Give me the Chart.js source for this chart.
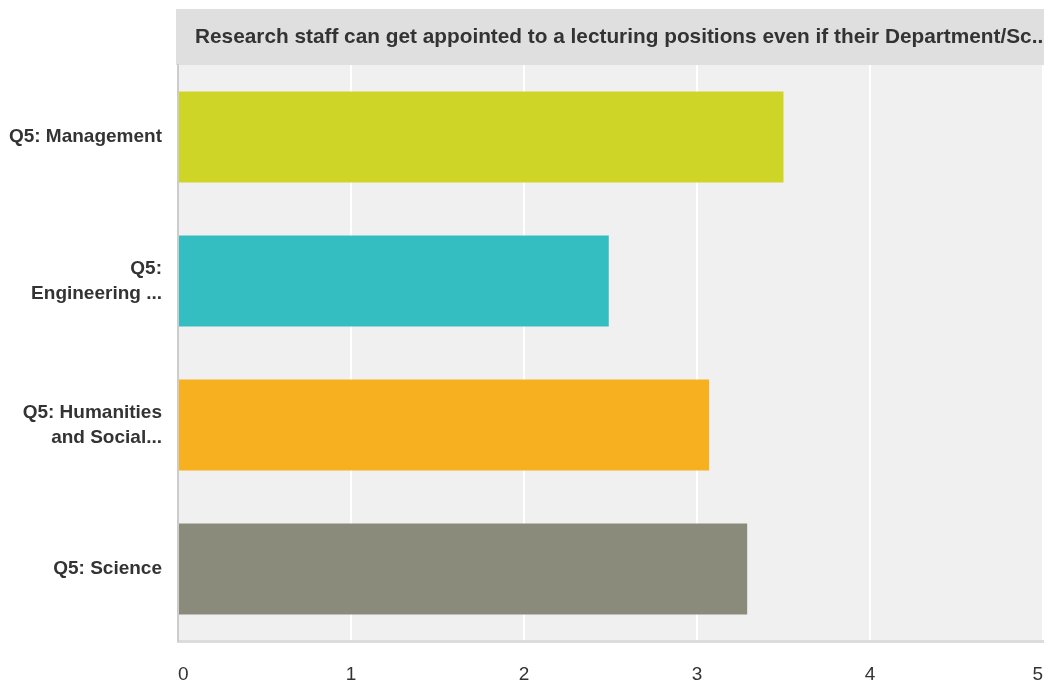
<!DOCTYPE html>
<html>
<head>
<meta charset="utf-8">
<script src="https://cdn.jsdelivr.net/npm/chart.js@4.4.1/dist/chart.umd.min.js"></script>
<style>
  html, body { margin: 0; padding: 0; background: #ffffff; }
  #wrap { width: 1053px; height: 685px; position: relative; }
</style>
</head>
<body>
<div id="wrap"><canvas id="c" width="1053" height="685"></canvas></div>
<script>
const chartTitle = "Research staff can get appointed to a lecturing positions even if their Department/Sc..";
const categories = [
  "Q5: Management",
  ["Q5:", "Engineering ..."],
  ["Q5: Humanities", "and Social..."],
  "Q5: Science"
];
const values = [3.5, 2.49, 3.07, 3.29];
const barColors = ["#cfd527", "#35bec1", "#f7b01f", "#8a8b7a"];
const xTicks = [0, 1, 2, 3, 4, 5];

const bgPlugin = {
  id: 'bgPlugin',
  beforeDraw(chart) {
    const { ctx, chartArea: a } = chart;
    ctx.save();
    ctx.fillStyle = '#f0f0f0';
    ctx.fillRect(a.left, a.top, a.right - a.left, a.bottom - a.top);
    // title bar
    const barLeft = a.left - 2, barTop = 9, barRight = a.right + 1;
    ctx.fillStyle = '#dfdfdf';
    ctx.fillRect(barLeft, barTop, barRight - barLeft, a.top - barTop);
    ctx.beginPath();
    ctx.rect(barLeft, barTop, barRight - barLeft, a.top - barTop);
    ctx.clip();
    ctx.fillStyle = '#333333';
    ctx.font = 'bold 20.8px "Liberation Sans", Arial, sans-serif';
    ctx.textBaseline = 'alphabetic';
    ctx.textAlign = 'left';
    ctx.fillText(chartTitle, a.left + 17, 43);
    ctx.restore();
  }
};

new Chart(document.getElementById('c'), {
  type: 'bar',
  data: {
    labels: categories,
    datasets: [{
      data: values,
      backgroundColor: barColors,
      borderWidth: 0,
      barPercentage: 0.632,
      categoryPercentage: 1.0
    }]
  },
  options: {
    indexAxis: 'y',
    responsive: false,
    animation: false,
    devicePixelRatio: 1,
    layout: { padding: { top: 65, right: 0, left: 0, bottom: 0 } },
    plugins: {
      legend: { display: false },
      tooltip: { enabled: false },
      title: { display: false }
    },
    scales: {
      x: {
        min: 0,
        max: 5,
        afterBuildTicks(scale) { scale.ticks = xTicks.map(v => ({ value: v })); },
        afterFit(scale) { scale.height = 44; scale.paddingRight = 10; scale.paddingLeft = 0; },
        grid: { color: '#ffffff', lineWidth: 2, drawTicks: false },
        border: { display: true, color: '#dcdcdc', width: 3 },
        ticks: {
          align: 'inner',
          padding: 22,
          color: '#333333',
          font: { family: '"Liberation Sans", Arial, sans-serif', size: 19 }
        }
      },
      y: {
        afterFit(scale) { scale.width = 178; },
        grid: { display: false, drawTicks: false },
        border: { display: true, color: '#cccccc', width: 2 },
        ticks: {
          padding: 16,
          color: '#333333',
          font: { family: '"Liberation Sans", Arial, sans-serif', size: 19, weight: 'bold', lineHeight: 1.3 }
        }
      }
    }
  },
  plugins: [bgPlugin]
});
</script>
</body>
</html>
